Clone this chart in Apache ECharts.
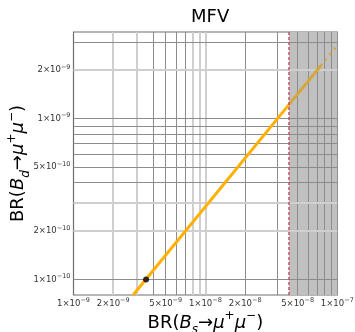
<!DOCTYPE html>
<html><head><meta charset="utf-8">
<script src="https://cdn.jsdelivr.net/npm/echarts@6/dist/echarts.min.js"></script>
<style>html,body{margin:0;padding:0;background:#fff}#c{width:355px;height:332px}</style>
</head><body><div id="c"></div>
<script>
// ---- data ----
const xTickLabels = [1e-9, 2e-9, 5e-9, 1e-8, 2e-8, 5e-8, 1e-7];
const yTickLabels = [1e-10, 2e-10, 5e-10, 1e-9, 2e-9];
const xGridDark = [4e-9, 5e-9, 6e-9, 7e-9, 2e-8, 3.5e-8, 5e-8, 6e-8, 7e-8, 8e-8, 9e-8];
const xGridLight = [2e-9, 3e-9, 8e-9, 9e-9, 1e-8];
const yGridDark = [1e-10, 4e-10, 5e-10, 6e-10, 7e-10, 8e-10, 9e-10, 1e-9, 3e-9];
const yGridLight = [2e-10, 3e-10, 2e-9];
const mfvX = [2.83e-9, 4.3e-8];
const mfvY = [8.0e-11, 1.22e-9];
const mfvShadedX = [4.3e-8, 7.5e-8];
const mfvShadedY = [1.22e-9, 2.13e-9];
const mfvTailX = [7.5e-8, 1e-7];
const mfvTailY = [2.13e-9, 2.84e-9];
const smX = [3.55e-9];
const smY = [1.0e-10];
const bsLimit = 4.3e-8;
const excluded = [4.3e-8, 1e-7];
const xRange = [1e-9, 1e-7];
const yRange = [8e-11, 3.45e-9];

// ---- helpers ----
function fmt(v){
  const e = Math.floor(Math.log10(v) + 1e-9);
  const m = Math.round(v / Math.pow(10, e));
  return '{m|' + m + '×10}{s|' + String(e).replace('-', '−') + '}';
}
const zip = (a, b) => a.map((v, i) => [v, b[i]]);
const FONT = 'DejaVu Sans';
const tickRich = {
  m: {fontSize: 8.5, color: '#333', fontFamily: FONT, lineHeight: 13},
  s: {fontSize: 6.5, color: '#333', fontFamily: FONT, lineHeight: 6, verticalAlign: 'top'}
};
const nameRich = {
  n: {fontSize: 18, fontFamily: FONT, color: '#000', lineHeight: 26},
  i: {fontSize: 18, fontFamily: FONT, color: '#000', lineHeight: 26, fontStyle: 'italic'},
  sub: {fontSize: 12, fontFamily: FONT, color: '#000', lineHeight: 11, verticalAlign: 'bottom', fontStyle: 'italic'},
  sup: {fontSize: 12, fontFamily: FONT, color: '#000', lineHeight: 11, verticalAlign: 'top'}
};
const dark = {color: '#8c8c8c', width: 1, type: 'solid'};
const light = {color: '#cfcfcf', width: 2, type: 'solid'};
const none = {color: 'rgba(0,0,0,0)', width: 0};

const marks = [];
xGridDark.forEach(v => marks.push({xAxis: v, lineStyle: dark, label: {show: false}}));
xGridLight.forEach(v => marks.push({xAxis: v, lineStyle: light, label: {show: false}}));
yGridDark.forEach(v => marks.push({yAxis: v, lineStyle: dark, label: {show: false}}));
yGridLight.forEach(v => marks.push({yAxis: v, lineStyle: light, label: {show: false}}));
xTickLabels.forEach(v => marks.push({xAxis: v, lineStyle: none,
  label: {show: true, position: 'start', distance: 2, formatter: fmt(v), rich: tickRich}}));
yTickLabels.forEach(v => marks.push({yAxis: v, lineStyle: none,
  label: {show: true, position: 'start', distance: 3, formatter: fmt(v), rich: tickRich}}));

const chart = echarts.init(document.getElementById('c'), null, {renderer: 'canvas'});
chart.setOption({
  animation: false,
  backgroundColor: '#fff',
  title: {text: 'MFV', left: 186, top: 3,
    textStyle: {fontFamily: FONT, fontSize: 18, fontWeight: 'normal', color: '#000'}},
  grid: {left: 73.5, right: 17.7, top: 32, bottom: 37, show: true,
    outerBoundsMode: 'none', containLabel: false,
    borderColor: '#6e6e6e', borderWidth: 1.2, backgroundColor: 'transparent'},
  xAxis: {type: 'log', logBase: 10, min: xRange[0], max: xRange[1],
    axisLabel: {show: false}, axisTick: {show: false}, splitLine: {show: false},
    axisLine: {show: false},
    name: '{n|BR(}{i|B}{sub|s}{n|→}{i|μ}{sup|+}{i|μ}{sup|−}{n|)}',
    nameLocation: 'middle', nameGap: 15, nameTextStyle: {rich: nameRich}},
  yAxis: {type: 'log', logBase: 10, min: yRange[0], max: yRange[1],
    axisLabel: {show: false}, axisTick: {show: false}, splitLine: {show: false},
    axisLine: {show: false},
    name: '{n|BR(}{i|B}{sub|d}{n|→}{i|μ}{sup|+}{i|μ}{sup|−}{n|)}',
    nameLocation: 'middle', nameGap: 42, nameRotate: 90, nameTextStyle: {rich: nameRich}},
  series: [
    {type: 'line', name: 'MFV', data: zip(mfvX, mfvY), showSymbol: false, z: 3, clip: true,
      lineStyle: {color: '#ffb000', width: 3},
      markArea: {silent: true, z: 0, itemStyle: {color: '#c0c0c0'},
        data: [[{xAxis: excluded[0]}, {xAxis: excluded[1]}]]},
      markLine: {silent: true, z: 1, precision: 20, symbol: ['none', 'none'], animation: false,
        data: marks}},
    {type: 'line', name: 'MFV excluded', data: zip(mfvShadedX, mfvShadedY), showSymbol: false, z: 3,
      lineStyle: {color: '#d5a63c', width: 3},
      markLine: {silent: true, z: 4, precision: 20, symbol: ['none', 'none'], animation: false,
        data: [{xAxis: bsLimit, label: {show: false},
          lineStyle: {color: '#c9506b', width: 1.5, type: [3, 2]}}]}},
    {type: 'line', name: 'MFV tail', data: zip(mfvTailX, mfvTailY), showSymbol: false, z: 3,
      lineStyle: {color: '#d5a63c', width: 2.5, type: [2, 5]}},
    {type: 'scatter', name: 'SM', data: zip(smX, smY), symbolSize: 6, z: 5,
      itemStyle: {color: '#000'}}
  ]
});
</script></body></html>
